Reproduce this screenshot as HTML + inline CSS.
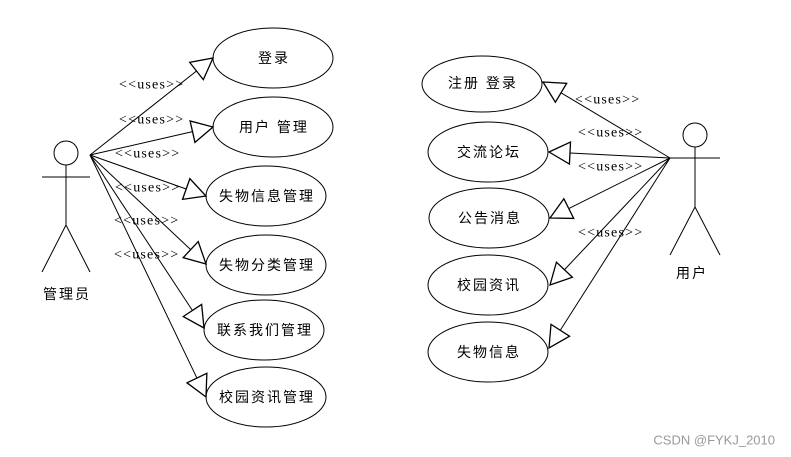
<!DOCTYPE html>
<html><head><meta charset="utf-8"><style>
html,body{margin:0;padding:0;background:#fff;width:791px;height:457px;overflow:hidden}
svg{display:block}
.u{font-family:"Liberation Serif",serif;font-size:14px;letter-spacing:1.2px}
.c{font-family:"Liberation Sans","Noto Sans CJK SC",sans-serif;font-size:14px;letter-spacing:2px}
</style></head><body>
<svg id="s" width="791" height="457" viewBox="0 0 791 457" xmlns="http://www.w3.org/2000/svg">
<g fill="none" stroke="#000" stroke-width="1">
<circle cx="66" cy="153" r="12"/>
<line x1="42" y1="177" x2="90" y2="177"/><line x1="66" y1="165" x2="66" y2="225"/>
<line x1="66" y1="225" x2="42" y2="272"/><line x1="66" y1="225" x2="90" y2="272"/>
<circle cx="695" cy="135" r="12"/>
<line x1="670" y1="158" x2="720" y2="158"/><line x1="695" y1="147" x2="695" y2="207"/>
<line x1="695" y1="207" x2="670" y2="255"/><line x1="695" y1="207" x2="720" y2="255"/>
<ellipse cx="273" cy="58" rx="60" ry="30"/>
<ellipse cx="273" cy="127" rx="60" ry="30"/>
<ellipse cx="266" cy="196" rx="60" ry="30"/>
<ellipse cx="266" cy="265" rx="60" ry="30"/>
<ellipse cx="264" cy="330" rx="60" ry="30"/>
<ellipse cx="266" cy="397" rx="60" ry="30"/>
<ellipse cx="482" cy="84" rx="60" ry="28"/>
<ellipse cx="488" cy="152" rx="60" ry="30"/>
<ellipse cx="489" cy="218" rx="60" ry="30"/>
<ellipse cx="488" cy="285" rx="60" ry="30"/>
<ellipse cx="488" cy="352" rx="60" ry="30"/>
<g id="arr"></g>
</g>
<g class="c" text-anchor="middle" dominant-baseline="central" fill="#000">
<text x="274" y="58">登录</text>
<text x="274" y="127">用户 管理</text>
<text x="267" y="196">失物信息管理</text>
<text x="267" y="265">失物分类管理</text>
<text x="265" y="330">联系我们管理</text>
<text x="267" y="397">校园资讯管理</text>
<text x="483" y="83">注册 登录</text>
<text x="489" y="152">交流论坛</text>
<text x="490" y="218">公告消息</text>
<text x="489" y="285">校园资讯</text>
<text x="489" y="352">失物信息</text>
<text x="67" y="294">管理员</text>
<text x="692" y="273">用户</text>
</g>
<g class="u" dominant-baseline="central" fill="#000">
<text x="119" y="85">&lt;&lt;uses&gt;&gt;</text>
<text x="119" y="120">&lt;&lt;uses&gt;&gt;</text>
<text x="115" y="154">&lt;&lt;uses&gt;&gt;</text>
<text x="115" y="188">&lt;&lt;uses&gt;&gt;</text>
<text x="114" y="221">&lt;&lt;uses&gt;&gt;</text>
<text x="114" y="255">&lt;&lt;uses&gt;&gt;</text>
<text x="575" y="100">&lt;&lt;uses&gt;&gt;</text>
<text x="578" y="133">&lt;&lt;uses&gt;&gt;</text>
<text x="578" y="167">&lt;&lt;uses&gt;&gt;</text>
<text x="578" y="233">&lt;&lt;uses&gt;&gt;</text>
</g>
<text x="775" y="440" text-anchor="end" dominant-baseline="central" font-family="Liberation Sans,sans-serif" font-size="13" fill="#999">CSDN @FYKJ_2010</text>
</svg>
<script>
var g=document.getElementById('arr'),ns='http://www.w3.org/2000/svg';
var L=[[90,155,[[213,58],[213,127],[206,196],[206,264],[204,328],[206,397]]],
[670,158,[[543,82],[549,152],[550,218],[550,285],[549,348]]]];
L.forEach(function(a){var ox=a[0],oy=a[1];a[2].forEach(function(t){
var dx=t[0]-ox,dy=t[1]-oy,d=Math.sqrt(dx*dx+dy*dy),ux=dx/d,uy=dy/d,len=21,w=11;
var bx=t[0]-ux*len,by=t[1]-uy*len;
var l=document.createElementNS(ns,'line');l.setAttribute('x1',ox);l.setAttribute('y1',oy);l.setAttribute('x2',bx);l.setAttribute('y2',by);g.appendChild(l);
var p=document.createElementNS(ns,'polygon');
p.setAttribute('points',t[0]+','+t[1]+' '+(bx-uy*w)+','+(by+ux*w)+' '+(bx+uy*w)+','+(by-ux*w));
p.setAttribute('fill','#fff');p.setAttribute('stroke-width','1.3');g.appendChild(p);});});
</script>
</body></html>
